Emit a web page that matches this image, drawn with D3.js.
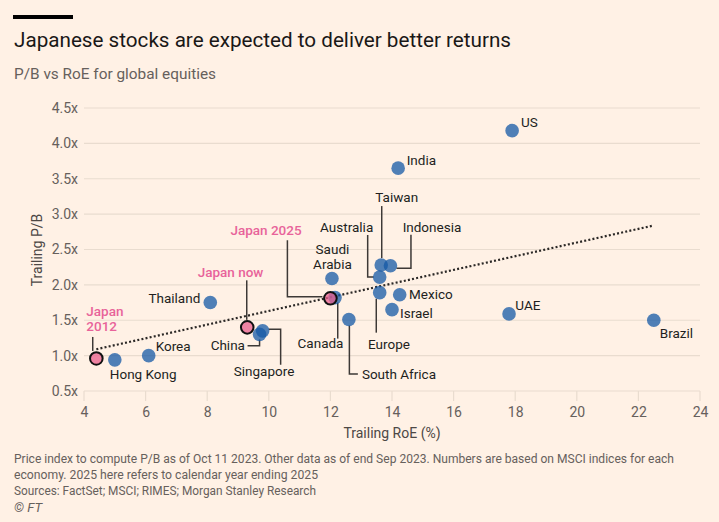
<!DOCTYPE html>
<html>
<head>
<meta charset="utf-8">
<script src="https://cdn.jsdelivr.net/npm/d3@7"></script>
<style>
  html, body { margin: 0; padding: 0; background: #fff1e5; }
  svg { display: block; }
  text { font-family: Roboto, "Noto Sans", sans-serif; }
</style>
</head>
<body>
<svg id="chart" width="719" height="522"></svg>
<script>
// ---- Data ----
const countries = ["Hong Kong","Korea","Thailand","China","Singapore","Canada","Saudi Arabia","South Africa","Australia","Taiwan","Indonesia","Europe","Mexico","Israel","India","US","UAE","Brazil"];
const roe       = [5.0, 6.1, 8.1, 9.7, 9.8, 12.15, 12.05, 12.6, 13.6, 13.65, 13.95, 13.6, 14.25, 14.0, 14.2, 17.9, 17.8, 22.5];
const pb        = [0.94, 1.0, 1.75, 1.3, 1.35, 1.82, 2.09, 1.51, 2.11, 2.28, 2.27, 1.89, 1.86, 1.65, 3.65, 4.18, 1.59, 1.5];

const japanLabels = ["Japan 2012", "Japan now", "Japan 2025"];
const japanRoe    = [4.4, 9.3, 12.0];
const japanPb     = [0.96, 1.4, 1.81];

const trendRoe = [4.4, 22.5];
const trendPb  = [1.09, 2.84];

const xTicks = [4, 6, 8, 10, 12, 14, 16, 18, 20, 22, 24];
const yTicks = [0.5, 1.0, 1.5, 2.0, 2.5, 3.0, 3.5, 4.0, 4.5];

const title = "Japanese stocks are expected to deliver better returns";
const subtitle = "P/B vs RoE for global equities";
const xTitle = "Trailing RoE (%)";
const yTitle = "Trailing P/B";
const notes = [
  "Price index to compute P/B as of Oct 11 2023. Other data as of end Sep 2023. Numbers are based on MSCI indices for each",
  "economy. 2025 here refers to calendar year ending 2025",
  "Sources: FactSet; MSCI; RIMES; Morgan Stanley Research",
  "\u00A9 FT"
];

// ---- Layout / style ----
const BG = "#fff1e5", INK = "#33302e", MUTED = "#66605c", GRID = "#e9dccf";
const BLUE = "rgb(20,88,165)", PINK = "#e95d8c", PINKTXT = "#e8639a";

const svg = d3.select("#chart");
svg.append("rect").attr("width", 719).attr("height", 522).attr("fill", BG);

const x = d3.scaleLinear().domain([4, 24]).range([84, 700]);
const y = d3.scaleLinear().domain([0.5, 4.5]).range([391, 108]);

function fit(sel, target) {
  sel.each(function() {
    const w = this.getComputedTextLength();
    if (Math.abs(w - target) > 1) {
      d3.select(this).attr("textLength", target).attr("lengthAdjust", "spacingAndGlyphs");
    }
  });
}

// header
svg.append("rect").attr("x", 13).attr("y", 15).attr("width", 60).attr("height", 4).attr("fill", "#000");
svg.append("text").attr("x", 14).attr("y", 47).attr("font-size", 20.5).attr("fill", "#1a1817")
  .text(title).call(fit, 497);
svg.append("text").attr("x", 14).attr("y", 79).attr("font-size", 15.5).attr("fill", MUTED)
  .text(subtitle).call(fit, 202);

// grid
const g = svg.append("g");
g.selectAll("line.grid").data(yTicks).join("line")
  .attr("x1", x(4)).attr("x2", x(24))
  .attr("y1", d => y(d)).attr("y2", d => y(d))
  .attr("stroke", GRID).attr("stroke-width", 1.2);
g.selectAll("line.xt").data(xTicks).join("line")
  .attr("x1", d => x(d)).attr("x2", d => x(d))
  .attr("y1", y(0.5)).attr("y2", y(0.5) + 10)
  .attr("stroke", GRID).attr("stroke-width", 1.2);

// axis labels via d3 axes (tick text only)
const yAxis = d3.axisLeft(y).tickValues(yTicks).tickSize(0).tickPadding(6)
  .tickFormat(d => d3.format(".1f")(d) + "x");
svg.append("g").attr("transform", `translate(${x(4)},0)`).call(yAxis)
  .call(a => a.select(".domain").remove())
  .call(a => a.selectAll("text").attr("font-size", 14).attr("fill", MUTED)
    .attr("font-family", "Roboto, sans-serif"));

const xAxis = d3.axisBottom(x).tickValues(xTicks).tickSize(0).tickPadding(16)
  .tickFormat(d3.format("d"));
svg.append("g").attr("transform", `translate(0,${y(0.5)})`).call(xAxis)
  .call(a => a.select(".domain").remove())
  .call(a => a.selectAll("text").attr("font-size", 14).attr("fill", MUTED)
    .attr("font-family", "Roboto, sans-serif"));

svg.append("text").attr("x", 392).attr("y", 438).attr("text-anchor", "middle")
  .attr("font-size", 14).attr("fill", "#4d4845").text(xTitle);
svg.append("text").attr("transform", `translate(42,250) rotate(-90)`).attr("text-anchor", "middle")
  .attr("font-size", 14).attr("fill", "#4d4845").text(yTitle);

// trend line
const line = d3.line().x(d => x(d[0])).y(d => y(d[1]));
svg.append("path").datum(d3.zip(trendRoe, trendPb)).attr("d", line)
  .attr("fill", "none").attr("stroke", "#2b2826").attr("stroke-width", 2.2)
  .attr("stroke-dasharray", "2 2.2");

// leader layouts (pixel offsets relative to dot; style, not data)
const leaders = {
  "China": [[-12, 11.3], [0, 11.3], [0, 5]],
  "Singapore": [[6, -1.5], [18, -1.5], [18, 34]],
  "Canada": [[2.7, 5], [2.7, 41]],
  "South Africa": [[0.5, 6], [0.5, 54.5], [9, 54.5]],
  "Australia": [[-12, -42], [-12, 0], [-6, 0]],
  "Taiwan": [[0.5, -59], [0.5, -7]],
  "Indonesia": [[20.5, -31], [20.5, 2.5], [6, 2.5]],
  "Europe": [[-3.4, 6], [-3.4, 40]],
  "Japan 2012": [[-3.6, -21.5], [-3.6, -7.5]],
  "Japan now": [[-0.5, -47], [-0.5, -7.5]],
  "Japan 2025": [[-43, -58], [-43, -1.5], [-8, -1.5]]
};
const labelPos = {
  "Hong Kong": {dx: -5, dy: [19.5], a: "start"},
  "Korea": {dx: 7, dy: [-5], a: "start"},
  "Thailand": {dx: -10, dy: [0.5], a: "end"},
  "China": {dx: -14.6, dy: [15.6], a: "end"},
  "Singapore": {dx: 1.4, dy: [45], a: "middle"},
  "Canada": {dx: -14.5, dy: [50.7], a: "middle"},
  "Saudi Arabia": {dx: 0.5, dy: [-24.5, -9.3], a: "middle", lines: ["Saudi", "Arabia"]},
  "South Africa": {dx: 13, dy: [59], a: "start"},
  "Australia": {dx: -33, dy: [-45.4], a: "middle"},
  "Taiwan": {dx: 15.5, dy: [-63], a: "middle"},
  "Indonesia": {dx: 41.5, dy: [-34], a: "middle"},
  "Europe": {dx: 9.3, dy: [56.6], a: "middle"},
  "Mexico": {dx: 9.3, dy: [4.2], a: "start"},
  "Israel": {dx: 8, dy: [8], a: "start"},
  "India": {dx: 8.5, dy: [-3], a: "start"},
  "US": {dx: 9, dy: [-3.6], a: "start"},
  "UAE": {dx: 6.3, dy: [-4], a: "start"},
  "Brazil": {dx: 6, dy: [18], a: "start"},
  "Japan 2012": {dx: -10, dy: [-42, -27], a: "start", lines: ["Japan", "2012"]},
  "Japan now": {dx: -16.7, dy: [-50.6], a: "middle"},
  "Japan 2025": {dx: -64.4, dy: [-63.3], a: "middle"}
};

const others = countries.map((c, i) => ({name: c, x: roe[i], y: pb[i]}));
const japan = japanLabels.map((c, i) => ({name: c, x: japanRoe[i], y: japanPb[i]}));
const all = others.concat(japan);

// leaders
const lg = svg.append("g");
all.forEach(d => {
  const L = leaders[d.name];
  if (!L) return;
  const px = x(d.x), py = y(d.y);
  lg.append("path")
    .attr("d", d3.line()(L.map(p => [px + p[0], py + p[1]])))
    .attr("fill", "none").attr("stroke", "#3d3936").attr("stroke-width", 1.5);
});

// dots
svg.append("g").selectAll("circle").data(others).join("circle")
  .attr("cx", d => x(d.x)).attr("cy", d => y(d.y)).attr("r", 6.8)
  .attr("fill", BLUE).attr("fill-opacity", 0.75);
svg.append("g").selectAll("circle").data(japan).join("circle")
  .attr("cx", d => x(d.x)).attr("cy", d => y(d.y)).attr("r", 6.3)
  .attr("fill", PINK).attr("fill-opacity", 0.75)
  .attr("stroke", "#111").attr("stroke-width", 2);

// labels
const tg = svg.append("g");
all.forEach(d => {
  const p = labelPos[d.name];
  const lines = p.lines || [d.name];
  const isJ = japanLabels.includes(d.name);
  lines.forEach((t, k) => {
    tg.append("text")
      .attr("x", x(d.x) + p.dx).attr("y", y(d.y) + p.dy[k])
      .attr("text-anchor", p.a)
      .attr("font-size", 13.5)
      .attr("font-weight", isJ ? 500 : 400)
      .attr("fill", isJ ? PINKTXT : "#221f1d")
      .text(t);
  });
});

// notes
const noteY = [462.7, 478.7, 495, 511.5];
const noteW = [660, 304, 302, 28];
notes.forEach((t, i) => {
  svg.append("text").attr("x", 14).attr("y", noteY[i]).attr("font-size", 12.5)
    .attr("fill", MUTED).attr("font-style", i === 3 ? "italic" : "normal")
    .text(t).call(fit, noteW[i]);
});
</script>
</body>
</html>
